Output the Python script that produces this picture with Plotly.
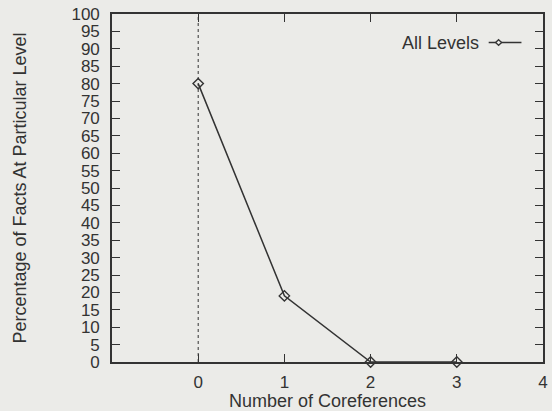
import plotly.graph_objects as go

# Share of facts by number of coreferences
coreferences = [0, 1, 2, 3]
pct_all_levels = [80, 19, 0, 0]
series_name = "All Levels"

x_ticks = [0, 1, 2, 3, 4]
y_ticks = list(range(0, 101, 5))

ink = "#333333"
paper = "#ebebe8"
font_family = "Liberation Sans, Arial, Helvetica, sans-serif"

fig = go.Figure()

fig.add_trace(go.Scatter(
    x=coreferences,
    y=pct_all_levels,
    mode="lines+markers",
    name=series_name,
    line=dict(color=ink, width=1.5),
    marker=dict(symbol="diamond-open", size=8, color=ink, line=dict(width=1.4, color=ink)),
    cliponaxis=False,
    showlegend=False,
))

# dotted zero axis
fig.add_shape(type="line", xref="x", yref="paper", x0=0, x1=0, y0=0, y1=1,
              line=dict(color=ink, width=1, dash="dot"), layer="below")

# key in the upper right: text, then a line sample with a marker
key_y = 0.918
fig.add_annotation(xref="paper", yref="paper", x=0.857, y=key_y, xanchor="right", yanchor="middle",
                   text=series_name, showarrow=False,
                   font=dict(family=font_family, size=18, color=ink))
fig.add_shape(type="line", xref="paper", yref="paper", x0=0.874, x1=0.95, y0=key_y, y1=key_y,
              line=dict(color=ink, width=1.5))
fig.add_shape(type="path", xref="paper", yref="paper",
              path=f"M 0.897 {key_y + 0.008} L 0.904 {key_y} L 0.897 {key_y - 0.008} L 0.890 {key_y} Z",
              line=dict(color=ink, width=1.3), fillcolor=paper)

axis_common = dict(
    showgrid=False, zeroline=False, showline=True, linecolor=ink, linewidth=1.6,
    mirror="ticks", ticks="inside", ticklen=8, tickcolor=ink, tickwidth=1.4,
    tickfont=dict(family=font_family, size=17, color=ink),
)

fig.update_layout(
    width=552, height=411,
    margin=dict(l=112, r=4, t=14, b=49),
    paper_bgcolor=paper, plot_bgcolor=paper,
    font=dict(family=font_family, color=ink),
    xaxis=dict(range=[-1, 4], tickvals=x_ticks, ticktext=[str(v) for v in x_ticks],
               ticklabelstandoff=4,
               title=dict(text="Number of Coreferences", font=dict(size=18, color=ink), standoff=0),
               **axis_common),
    yaxis=dict(range=[0, 100], tickvals=y_ticks, ticktext=[str(v) for v in y_ticks],
               ticklabelstandoff=7,
               title=dict(text="Percentage of Facts At Particular Level", font=dict(size=18, color=ink), standoff=40),
               **axis_common),
)

fig.write_html("out.html")
